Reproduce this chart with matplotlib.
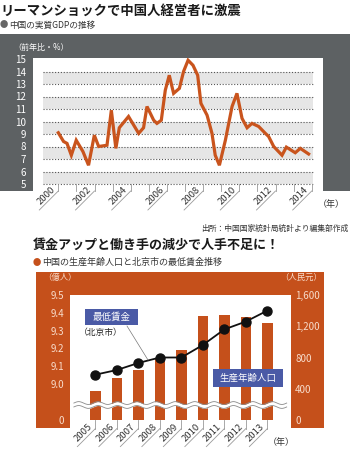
import matplotlib
matplotlib.use("Agg")
import matplotlib.pyplot as plt
import numpy as np
from matplotlib.patches import Rectangle
from matplotlib.lines import Line2D

plt.rcParams['font.family'] = ['Noto Sans CJK JP', 'DejaVu Sans']

gdp_time = [2000.0, 2000.29, 2000.48, 2000.72, 2000.99, 2001.36, 2001.67, 2001.99,
            2002.23, 2002.69, 2002.93, 2003.18, 2003.37, 2003.88, 2004.44, 2004.71,
            2004.90, 2005.27, 2005.45, 2005.69, 2005.91, 2006.13, 2006.37, 2006.69,
            2006.92, 2007.17, 2007.44, 2007.70, 2007.88, 2008.22, 2008.49, 2008.67,
            2008.90, 2009.23, 2009.60, 2009.87, 2010.15, 2010.43, 2010.70, 2011.07,
            2011.44, 2011.62, 2011.90, 2012.36, 2012.60, 2013.09, 2013.37, 2013.83]
gdp_rate = [9.1, 8.4, 8.25, 7.3, 8.5, 7.6, 6.5, 8.9,
            8.0, 8.1, 10.9, 7.85, 9.5, 10.4, 9.05, 9.5,
            11.2, 10.1, 9.85, 10.1, 12.5, 13.7, 12.25, 12.65,
            14.0, 14.9, 14.5, 13.7, 11.45, 10.5, 9.05, 7.3,
            6.5, 8.5, 11.2, 12.25, 10.25, 9.5, 9.85, 9.6,
            9.05, 8.8, 8.0, 7.3, 7.95, 7.5, 7.85, 7.4]
gdp_yticks = list(range(5, 16))
gdp_years = list(range(2000, 2015))

# --- data: working-age population (100M) and Beijing minimum wage (RMB) ---
years = [2005, 2006, 2007, 2008, 2009, 2010, 2011, 2012, 2013]
workers = [8.96, 9.035, 9.08, 9.14, 9.19, 9.38, 9.39, 9.375, 9.34]
min_wage = [580, 640, 730, 800, 800, 960, 1160, 1260, 1400]
pop_base = 8.8  # axis break, shown as "0"
left_ticks = [pop_base, 9.0, 9.1, 9.2, 9.3, 9.4, 9.5]
left_labels = ["0", "9.0", "9.1", "9.2", "9.3", "9.4", "9.5"]
right_ticks = [0, 400, 800, 1200, 1600]
right_labels = ["0", "400", "800", "1,200", "1,600"]

W, H = 351, 450
GRAY = "#5d6163"
ORANGE = "#c5501b"
LINE_OR = "#c9541d"
BLUE = "#4a5aa6"
PEACH = "#f8dccb"

fig = plt.figure(figsize=(W / 100, H / 100), dpi=100)


def fx(x):
    return x / W


def fy(y):
    return 1 - y / H


def rect(x0, y0, x1, y1, color, z=-5):
    fig.add_artist(Rectangle((fx(x0), fy(y1)), (x1 - x0) / W, (y1 - y0) / H,
                             transform=fig.transFigure, color=color, lw=0, zorder=z))


def line(xs, ys, color="#9a9a9a", lw=0.6, z=5):
    fig.add_artist(Line2D([fx(v) for v in xs], [fy(v) for v in ys],
                          transform=fig.transFigure, color=color, lw=lw, zorder=z))


def add_axes_px(x0, y0, x1, y1):
    return fig.add_axes([fx(x0), fy(y1), (x1 - x0) / W, (y1 - y0) / H])


def year_ticks(ax, xs, base, drop, length, labels, fs=6.8):
    for xv, lab in zip(xs, labels):
        dx, dy = ax.transData.transform((xv, base))
        x0, y0 = dx, H - dy
        y1 = y0 + drop
        line([x0, x0], [y0, y1])
        if lab:
            line([x0, x0 - length], [y1, y1 + length])
            fig.text(fx(x0 - 1.2), fy(y1 + 0.2), lab, rotation=45, ha="right", va="bottom",
                     rotation_mode="anchor", fontsize=fs, color="#333333")


# ================= top chart =================
fig.text(fx(0), fy(11), "リーマンショックで中国人経営者に激震", fontsize=9.6,
         fontweight="bold", va="center", ha="left", color="#1a1a1a")
fig.text(fx(0), fy(25), "●", fontsize=6, va="center", ha="left", color="#666666")
fig.text(fx(9), fy(25), "中国の実質GDPの推移", fontsize=6.2, va="center", ha="left",
         color="#333333")

rect(0, 34, 350, 191, GRAY)
ax1 = add_axes_px(33, 58, 323, 191)
ax1.set_xlim(1998.602, 2014.624)
ax1.set_ylim(4.44, 15.08)
for s in ax1.spines.values():
    s.set_visible(False)

band_x = [1999.15, 2014.07]
for lo in [5, 7, 9, 11, 13]:
    ax1.fill_between(band_x, lo, lo + 1, color="#e6e6e6", lw=0, zorder=1)
for v in range(5, 15):
    ax1.plot(band_x, [v, v], color="#555555", lw=0.8, ls=(0, (1, 1.6)), zorder=2)

ax1.plot(gdp_time, gdp_rate, color=LINE_OR, lw=2.3, solid_joinstyle="miter", zorder=3)
ax1.set_xticks([])
ax1.set_yticks(gdp_yticks)
ax1.set_yticklabels([str(v) for v in gdp_yticks])
ax1.tick_params(axis="y", length=0, pad=5, labelsize=7, labelcolor="white")
fig.text(fx(13), fy(47), "（前年比・%）", fontsize=5.8, color="white", va="center", ha="left")

year_ticks(ax1, gdp_years, 5, 7, 19,
           [str(y) if y % 2 == 0 else "" for y in gdp_years])
fig.text(fx(318), fy(205), "（年）", fontsize=6.5, color="#333333", va="center", ha="left")
fig.text(fx(348), fy(229), "出所：中国国家統計局統計より編集部作成", fontsize=5.6,
         color="#333333", va="center", ha="right")

# ================= bottom chart =================
fig.text(fx(33), fy(245), "賃金アップと働き手の減少で人手不足に！", fontsize=9.4,
         fontweight="bold", va="center", ha="left", color="#1a1a1a")
fig.text(fx(33), fy(262), "●", fontsize=6, va="center", ha="left", color=ORANGE)
fig.text(fx(42), fy(262), "中国の生産年齢人口と北京市の最低賃金推移", fontsize=6.5,
         va="center", ha="left", color="#333333")

rect(36, 272, 324, 428, ORANGE)
ax2 = add_axes_px(70, 295, 291, 430)
ax2.set_xlim(2003.82, 2014.1)
ax2.set_ylim(9.0 - (430 - 384) / 178, 9.5)
for s in ax2.spines.values():
    s.set_visible(False)
ax2.bar(years, np.array(workers) - pop_base, bottom=pop_base, width=0.49,
        color=ORANGE, zorder=2)
ax2.set_xticks([])
ax2.set_yticks(left_ticks)
ax2.set_yticklabels(left_labels)
ax2.tick_params(axis="y", length=0, pad=4, labelsize=7, labelcolor=PEACH)

# axis break
wx = np.linspace(2004.0, 2013.9, 400)
wave = 0.008 * np.sin((wx - 2004) * 2 * np.pi / 0.9)
ax2.fill_between(wx, 8.871 + wave, 8.893 + wave, color="white", lw=0, zorder=3)
ax2.plot(wx, 8.871 + wave, color="#8a8a8a", lw=0.6, zorder=4)
ax2.plot(wx, 8.893 + wave, color="#8a8a8a", lw=0.6, zorder=4)

ax3 = ax2.twinx()
ax3.set_ylim(-(430 - 420) / 125 * 1600, 1600)
for s in ax3.spines.values():
    s.set_visible(False)
ax3.plot(years, min_wage, color="#111111", lw=1.3, marker="o", ms=6.5, zorder=5)
ax3.set_yticks(right_ticks)
ax3.set_yticklabels(right_labels)
ax3.tick_params(axis="y", length=0, pad=3, labelsize=7, labelcolor=PEACH)

fig.text(fx(43), fy(277), "（億人）", fontsize=6, color=PEACH, va="center", ha="left")
fig.text(fx(322), fy(277), "（人民元）", fontsize=6, color=PEACH, va="center", ha="right")

# labels
rect(85, 309, 138, 325, BLUE, z=6)
fig.text(fx(111.5), fy(317), "最低賃金", fontsize=6.8, color="white", va="center",
         ha="center", zorder=7)
fig.text(fx(79), fy(333), "（北京市）", fontsize=6.3, color="#222222", va="center", ha="left")
line([127, 148], [326, 360], color="#777777", lw=0.5)
rect(213, 369, 283, 387, BLUE, z=6)
fig.text(fx(248), fy(378), "生産年齢人口", fontsize=6.8, color="white", va="center",
         ha="center", zorder=7)

year_ticks(ax2, years, pop_base, 9, 18, [str(y) for y in years])
fig.text(fx(268), fy(442), "（年）", fontsize=6.5, color="#333333", va="center", ha="left")

fig.savefig("out.png", dpi=100)
